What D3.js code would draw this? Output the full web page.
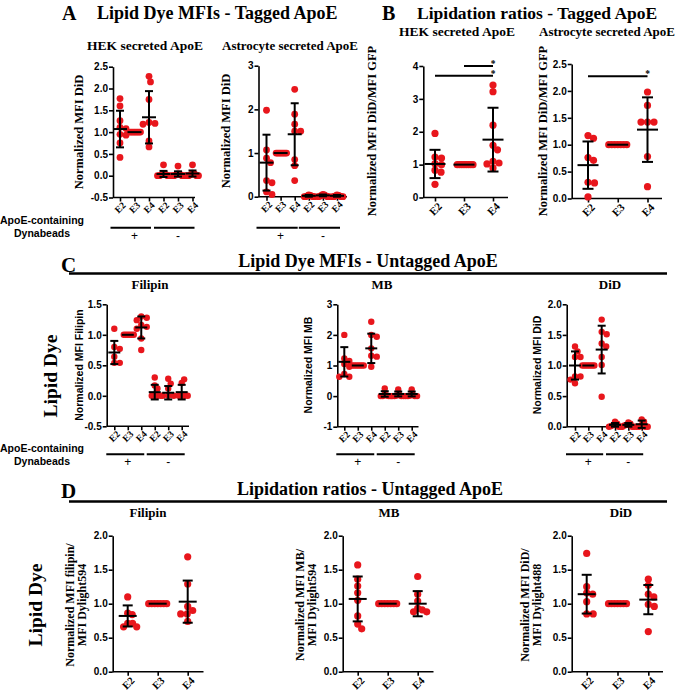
<!DOCTYPE html>
<html><head><meta charset="utf-8">
<script src="https://cdn.jsdelivr.net/npm/d3@7/dist/d3.min.js"></script>
<style>
body{margin:0;background:#fff;}
svg{display:block;}
</style></head>
<body>
<script>
// ---------------- DATA ----------------
const catsSix = ["E2","E3","E4","E2","E3","E4"];
const catsThree = ["E2","E3","E4"];

// Panel A - HEK secreted ApoE (Normalized MFI DiD)
const aHekValues = [
  [1.77, 1.6, 1.26, 1.11, 1.08, 0.95, 0.93, 0.75, 0.42],
  [1, 1, 1, 1, 1, 1, 1, 1],
  [2.28, 2.15, 1.75, 1.22, 1.2, 1.18, 0.8, 0.66],
  [0.25, 0.05, 0.03, 0.02, 0, 0, 0, 0],
  [0.22, 0.04, 0.03, 0.02, 0, 0, 0, 0],
  [0.25, 0.06, 0.04, 0.02, 0, 0, 0, 0]
];
const aHekMean = [1.07, 1.0, 1.34, 0.04, 0.04, 0.05];
const aHekSD   = [0.42, 0, 0.6, 0.07, 0.06, 0.07];

// Panel A - Astrocyte secreted ApoE
const aAstValues = [
  [1.98, 1.07, 0.88, 0.78, 0.37, 0.32, 0.11, 0.05],
  [1, 1, 1, 1, 1, 1, 1, 1],
  [2.46, 1.89, 1.66, 1.5, 1.5, 0.85, 0.71, 0.37],
  [0.04, 0.03, 0.02, 0.01, 0, 0, 0, 0],
  [0.05, 0.04, 0.03, 0.02, 0.01, 0, 0, 0],
  [0.04, 0.03, 0.02, 0.01, 0, 0, 0, 0]
];
const aAstMean = [0.78, 1.0, 1.43, 0.02, 0.03, 0.02];
const aAstSD   = [0.64, 0, 0.71, 0.02, 0.02, 0.02];

// Panel B - HEK ratio (DiD/GFP)
const bHekValues = [
  [1.95, 1.23, 1.2, 1.03, 1.0, 0.83, 0.77, 0.4],
  [1, 1, 1, 1, 1, 1, 1, 1],
  [3.42, 3.22, 2.2, 1.59, 1.45, 1.1, 1.05, 1.02, 0.9]
];
const bHekMean = [1.02, 1.0, 1.76];
const bHekSD   = [0.43, 0, 0.97];
const bHekSig  = [[0, 2, 3.7], [1, 2, 4.0]];

// Panel B - Astrocyte ratio
const bAstValues = [
  [1.17, 1.12, 0.76, 0.71, 0.3, 0.29, 0.03],
  [1, 1, 1, 1, 1, 1, 1],
  [1.98, 1.73, 1.42, 1.42, 1.42, 0.78, 0.22]
];
const bAstMean = [0.62, 1.0, 1.28];
const bAstSD   = [0.44, 0, 0.6];
const bAstSig  = [[0, 2, 2.27]];

// Panel C - Filipin
const cFilValues = [
  [1.1, 0.8, 0.77, 0.64, 0.54, 0.54],
  [1, 1, 1, 1, 1, 1],
  [1.3, 1.28, 1.24, 1.16, 1.13, 1.1, 0.94, 0.75],
  [0.3, 0.17, 0.12, 0, 0, 0, 0],
  [0.28, 0.2, 0.12, 0, 0, 0],
  [0.21, 0.27, 0, 0, 0, 0]
];
const cFilMean = [0.71, 1.0, 1.12, 0.06, 0.05, 0.06];
const cFilSD   = [0.19, 0, 0.18, 0.12, 0.11, 0.12];

// Panel C - MB
const cMbValues = [
  [2.0, 1.23, 1.15, 1.05, 0.96, 0.72, 0.63, 0.63],
  [1, 1, 1, 1, 1, 1, 1],
  [2.43, 2.0, 1.94, 1.56, 1.32, 1.29, 0.96],
  [0.25, 0.05, 0.02, 0, 0, 0, 0],
  [0.22, 0.05, 0.02, 0, 0, 0, 0],
  [0.22, 0.05, 0.02, 0, 0, 0, 0]
];
const cMbMean = [1.12, 1.0, 1.56, 0.07, 0.07, 0.07];
const cMbSD   = [0.48, 0, 0.48, 0.09, 0.08, 0.08];

// Panel C - DiD
const cDidValues = [
  [1.31, 1.23, 1.14, 1.14, 0.82, 0.82, 0.77, 0.71],
  [1, 1, 1, 1, 1, 1, 1],
  [1.75, 1.55, 1.51, 1.36, 1.31, 1.14, 1.01, 0.49],
  [0.08, 0.05, 0.03, 0.01, 0, 0, 0],
  [0.07, 0.05, 0.03, 0.02, 0, 0, 0],
  [0.12, 0.08, 0.03, 0, 0, 0, 0]
];
const cDidMean = [1.0, 1.0, 1.26, 0.03, 0.03, 0.04];
const cDidSD   = [0.23, 0, 0.39, 0.03, 0.03, 0.06];

// Panel D - Filipin ratio
const dFilValues = [
  [1.1, 0.86, 0.84, 0.71, 0.71, 0.66, 0.66],
  [1, 1, 1, 1, 1, 1, 1],
  [1.69, 1.29, 0.96, 0.9, 0.85, 0.85, 0.74]
];
const dFilMean = [0.82, 1.0, 1.03];
const dFilSD   = [0.155, 0, 0.31];

// Panel D - MB ratio
const dMbValues = [
  [1.57, 1.36, 1.26, 1.16, 1.05, 0.82, 0.7, 0.63],
  [1, 1, 1, 1, 1, 1, 1],
  [1.4, 1.14, 1.04, 0.93, 0.91, 0.88, 0.88]
];
const dMbMean = [1.07, 1.0, 1.0];
const dMbSD   = [0.33, 0, 0.185];

// Panel D - DiD ratio
const dDidValues = [
  [1.74, 1.25, 1.16, 1.14, 1.03, 0.85, 0.85],
  [1, 1, 1, 1, 1, 1, 1],
  [1.36, 1.27, 1.14, 1.1, 0.99, 0.96, 0.59]
];
const dDidMean = [1.14, 1.0, 1.06];
const dDidSD   = [0.285, 0, 0.215];

// Tick values
const ticksA1 = [-0.5, 0, 0.5, 1, 1.5, 2, 2.5];
const ticksA2 = [0, 1, 2, 3];
const ticksB1 = [0, 1, 2, 3, 4];
const ticksB2 = [0, 0.5, 1, 1.5, 2, 2.5];
const ticksC1 = [-0.5, 0, 0.5, 1, 1.5];
const ticksC2 = [-1, 0, 1, 2, 3];
const ticksC3 = [0, 0.5, 1, 1.5, 2];
const ticksD  = [0, 0.5, 1, 1.5, 2];

// ---------------- DRAWING ----------------
const W = 683, H = 696;
const SERIF = "'Liberation Serif','Times New Roman',serif";
const SANS = "'Liberation Sans',Arial,sans-serif";
const RED = "#e8161c";

const svg = d3.select("body").append("svg").attr("width", W).attr("height", H)
  .attr("viewBox", `0 0 ${W} ${H}`);
svg.append("rect").attr("width", W).attr("height", H).attr("fill", "#fff");

function txt(x, y, s, opts) {
  const t = svg.append("text").attr("x", x).attr("y", y).text(s)
    .attr("font-family", opts.family || SERIF)
    .attr("font-weight", opts.weight || "bold")
    .attr("font-size", opts.size)
    .attr("text-anchor", opts.anchor || "start")
    .attr("fill", "#000");
  if (opts.dy) t.attr("dy", opts.dy);
  if (opts.rotate) t.attr("transform", `rotate(${opts.rotate},${x},${y})`);
  return t;
}

function swarm(vals, y, minDist, maxHalf) {
  const pts = vals.map(v => ({ v, py: y(v), off: 0 }));
  const placed = [];
  pts.forEach(p => {
    let k = 0;
    while (true) {
      const cand = k === 0 ? 0 : (k % 2 ? 1 : -1) * Math.ceil(k / 2) * 0.5;
      const ok = placed.every(q => {
        const dx = q.off - cand, dy = q.py - p.py;
        return dx * dx + dy * dy >= minDist * minDist;
      });
      if (ok) { p.off = cand; break; }
      k++;
    }
    placed.push(p);
  });
  const m = d3.max(pts, p => Math.abs(p.off));
  if (m > maxHalf) pts.forEach(p => p.off *= maxHalf / m);
  return pts;
}

function plot(cfg) {
  const g = svg.append("g");
  const y = d3.scaleLinear().domain(cfg.domain).range([cfg.yBot, cfg.yTop]);
  const x = d3.scalePoint().domain(d3.range(cfg.cats.length)).range([cfg.c0, cfg.c1]);
  const fmt = d3.format(cfg.fmt);

  const ya = g.append("g").attr("transform", `translate(${cfg.x0},0)`)
    .call(d3.axisLeft(y).tickValues(cfg.ticks).tickSize(4).tickSizeOuter(0)
      .tickFormat(v => fmt(v).replace("\u2212", "-")));
  ya.selectAll("text").attr("font-family", SANS).attr("font-weight", "bold")
    .attr("font-size", cfg.yTickSize || 10).attr("fill", "#000").attr("x", -5);

  const xa = g.append("g").attr("transform", `translate(0,${cfg.yBot})`)
    .call(d3.axisBottom(x).tickSize(4).tickSizeOuter(0).tickFormat(i => cfg.cats[i]));
  xa.select(".domain").attr("d", `M${cfg.x0},0H${cfg.x1}`);
  xa.selectAll("text").remove();
  cfg.cats.forEach((c, i) => {
    txt(x(i) + cfg.xlOff[0], cfg.yBot + cfg.xlOff[1], c,
      { size: cfg.xTickSize, anchor: "end", rotate: -45, dy: "0.35em" });
  });

  g.selectAll(".domain, .tick line").attr("stroke", "#000").attr("stroke-width", 1.6);

  // dots
  cfg.values.forEach((vals, i) => {
    const pts = swarm(vals, y, cfg.r * 1.7, cfg.swarmHalf);
    g.append("g").selectAll("circle").data(pts).join("circle")
      .attr("cx", p => x(i) + p.off).attr("cy", p => p.py).attr("r", cfg.r)
      .attr("fill", RED);
  });

  // error bars
  const eb = g.append("g").attr("stroke", "#000").attr("stroke-width", 2).attr("fill", "none");
  cfg.means.forEach((m, i) => {
    const cx = x(i), sd = cfg.sds[i];
    eb.append("line").attr("x1", cx - cfg.meanHalf).attr("x2", cx + cfg.meanHalf)
      .attr("y1", y(m)).attr("y2", y(m));
    if (sd > 0) {
      eb.append("line").attr("x1", cx).attr("x2", cx).attr("y1", y(m - sd)).attr("y2", y(m + sd));
      [m - sd, m + sd].forEach(v => eb.append("line")
        .attr("x1", cx - cfg.capHalf).attr("x2", cx + cfg.capHalf)
        .attr("y1", y(v)).attr("y2", y(v)));
    }
  });

  // significance
  (cfg.sig || []).forEach(([a, b, lv]) => {
    g.append("line").attr("x1", x(a)).attr("x2", x(b)).attr("y1", y(lv)).attr("y2", y(lv))
      .attr("stroke", "#000").attr("stroke-width", 2);
    txt(x(b), y(lv) + 1, "*", { size: 9.5, anchor: "middle" });
  });

  // y label
  cfg.ylabel.forEach((s, k) => {
    txt(cfg.ylx[k], cfg.yly, s, { size: cfg.ylSize, family: cfg.ylFamily || SERIF, anchor: "middle", rotate: -90 });
  });

  // group lines
  if (cfg.groupY) {
    [[0, 2, "+"], [3, 5, "-"]].forEach(([a, b, s]) => {
      g.append("line").attr("x1", x(a) - cfg.gPad[0]).attr("x2", x(b) + cfg.gPad[1])
        .attr("y1", cfg.groupY).attr("y2", cfg.groupY).attr("stroke", "#000").attr("stroke-width", 2);
      txt((x(a) + x(b)) / 2, cfg.groupY + 12, s, { size: 12, weight: "normal", family: SANS, anchor: "middle" });
    });
  }
  return { x, y };
}

// ---------- Headings ----------
txt(62, 20, "A", { size: 20 });
txt(97, 19, "Lipid Dye MFIs - Tagged ApoE", { size: 18 });
txt(145, 50, "HEK secreted ApoE", { size: 13.5, anchor: "middle" });
txt(290, 50, "Astrocyte secreted ApoE", { size: 13, anchor: "middle" });

txt(382, 20, "B", { size: 20 });
txt(417, 19, "Lipidation ratios - Tagged ApoE", { size: 17.5 });
txt(457, 36, "HEK secreted ApoE", { size: 13.5, anchor: "middle" });
txt(607, 36, "Astrocyte secreted ApoE", { size: 13, anchor: "middle" });

txt(61, 272, "C", { size: 21 });
txt(368, 267, "Lipid Dye MFIs - Untagged ApoE", { size: 18, anchor: "middle" });
svg.append("line").attr("x1", 69).attr("x2", 667).attr("y1", 273.5).attr("y2", 273.5)
  .attr("stroke", "#000").attr("stroke-width", 2.5);
txt(150, 289, "Filipin", { size: 13, anchor: "middle" });
txt(382, 289, "MB", { size: 13, anchor: "middle" });
txt(610, 289, "DiD", { size: 13, anchor: "middle" });
txt(57, 376, "Lipid Dye", { size: 19.5, anchor: "middle", rotate: -90 });

txt(61, 498, "D", { size: 21 });
txt(370, 495, "Lipidation ratios - Untagged ApoE", { size: 18, anchor: "middle" });
svg.append("line").attr("x1", 69).attr("x2", 667).attr("y1", 501.5).attr("y2", 501.5)
  .attr("stroke", "#000").attr("stroke-width", 2.5);
txt(148, 517, "Filipin", { size: 13, anchor: "middle" });
txt(389, 517, "MB", { size: 13, anchor: "middle" });
txt(621, 517, "DiD", { size: 13, anchor: "middle" });
txt(42, 605, "Lipid Dye", { size: 19.5, anchor: "middle", rotate: -90 });

// Dynabeads labels
[[224, 237], [452, 465]].forEach(([y1, y2]) => {
  txt(42, y1, "ApoE-containing", { size: 10.5, family: SANS, anchor: "middle" });
  txt(42, y2, "Dynabeads", { size: 10.5, family: SANS, anchor: "middle" });
});

// ---------- Plots ----------
const sixCommon = { cats: catsSix, xTickSize: 9.5, xlOff: [4, 6], r: 3.4 };
const threeCommon = { cats: catsThree, r: 3.6 };

plot(Object.assign({}, sixCommon, {
  x0: 113, x1: 195, yTop: 66.7, yBot: 197.5, domain: [-0.5, 2.5], ticks: ticksA1, fmt: ".1f",
  c0: 120, c1: 192.5, values: aHekValues, means: aHekMean, sds: aHekSD,
  meanHalf: 7, capHalf: 4, swarmHalf: 6,
  ylabel: ["Normalized MFI DiD"], ylx: [83], yly: 132, ylSize: 12.5,
  groupY: 227.7, gPad: [9.5, 2]
}));
plot(Object.assign({}, sixCommon, {
  x0: 258.5, x1: 347, yTop: 65.7, yBot: 196.7, domain: [0, 3], ticks: ticksA2, fmt: "d",
  c0: 266.5, c1: 337, values: aAstValues, means: aAstMean, sds: aAstSD,
  meanHalf: 7, capHalf: 4, swarmHalf: 6,
  ylabel: ["Normalized MFI DiD"], ylx: [230], yly: 131, ylSize: 12.5,
  groupY: 227.7, gPad: [10, 3]
}));
plot(Object.assign({}, threeCommon, {
  x0: 423.3, x1: 508, yTop: 66, yBot: 197.5, domain: [0, 4], ticks: ticksB1, fmt: "d",
  c0: 435, c1: 493, values: bHekValues, means: bHekMean, sds: bHekSD, sig: bHekSig,
  meanHalf: 10.5, capHalf: 5.5, swarmHalf: 9, xTickSize: 11, xlOff: [5, 7],
  ylabel: ["Normalized MFI DiD/MFI GFP"], ylx: [376], yly: 131, ylSize: 12.5
}));
plot(Object.assign({}, threeCommon, {
  x0: 571.7, x1: 662, yTop: 64, yBot: 198.5, domain: [0, 2.5], ticks: ticksB2, fmt: ".1f",
  c0: 588, c1: 647.5, values: bAstValues, means: bAstMean, sds: bAstSD, sig: bAstSig,
  meanHalf: 10.5, capHalf: 5.5, swarmHalf: 9, xTickSize: 11, xlOff: [5, 7],
  ylabel: ["Normalized MFI DiD/MFI GFP"], ylx: [547], yly: 131, ylSize: 12.5
}));

plot(Object.assign({}, sixCommon, {
  x0: 106.7, x1: 189, yTop: 304.3, yBot: 426.3, domain: [-0.5, 1.5], ticks: ticksC1, fmt: ".1f",
  c0: 114.3, c1: 181.7, values: cFilValues, means: cFilMean, sds: cFilSD, r: 3.2,
  meanHalf: 6, capHalf: 4, swarmHalf: 6,
  ylabel: ["Normalized MFI Filipin"], ylx: [82.5], yly: 365, ylSize: 10.5, ylFamily: SANS,
  groupY: 454.3, gPad: [8, 3]
}));
plot(Object.assign({}, sixCommon, {
  x0: 337.3, x1: 418.5, yTop: 304.3, yBot: 426.7, domain: [-1, 3], ticks: ticksC2, fmt: "d",
  c0: 344.3, c1: 411.7, values: cMbValues, means: cMbMean, sds: cMbSD, r: 3.2,
  meanHalf: 6, capHalf: 4, swarmHalf: 6,
  ylabel: ["Normalized MFI MB"], ylx: [312], yly: 365, ylSize: 10.5, ylFamily: SANS,
  groupY: 454.3, gPad: [8, 3]
}));
plot(Object.assign({}, sixCommon, {
  x0: 566.7, x1: 650, yTop: 304.3, yBot: 426.7, domain: [0, 2], ticks: ticksC3, fmt: ".1f",
  c0: 575, c1: 641.7, values: cDidValues, means: cDidMean, sds: cDidSD, r: 3.2,
  meanHalf: 6, capHalf: 4, swarmHalf: 6,
  ylabel: ["Normalized MFI DiD"], ylx: [541], yly: 365, ylSize: 10.5, ylFamily: SANS,
  groupY: 454.3, gPad: [9, 1.5]
}));

const dCommon = Object.assign({}, threeCommon, {
  yTop: 535.7, yBot: 671.7, domain: [0, 2], ticks: ticksD, fmt: ".1f",
  meanHalf: 9, capHalf: 5, swarmHalf: 9, xTickSize: 10.5, xlOff: [5, 7], yly: 605, ylSize: 12
});
plot(Object.assign({}, dCommon, {
  x0: 112.7, x1: 203.5, c0: 127.7, c1: 187.7,
  values: dFilValues, means: dFilMean, sds: dFilSD,
  ylabel: ["Normalized MFI filipin/", "MFI Dylight594"], ylx: [74, 86]
}));
plot(Object.assign({}, dCommon, {
  x0: 342.7, x1: 433.5, c0: 357.7, c1: 417.7,
  values: dMbValues, means: dMbMean, sds: dMbSD,
  ylabel: ["Normalized MFI MB/", "MFI Dylight594"], ylx: [304, 316]
}));
plot(Object.assign({}, dCommon, {
  x0: 571.7, x1: 663, c0: 586.7, c1: 648.3,
  values: dDidValues, means: dDidMean, sds: dDidSD,
  ylabel: ["Normalized MFI DiD/", "MFI Dylight488"], ylx: [529, 541]
}));
</script>
</body></html>
